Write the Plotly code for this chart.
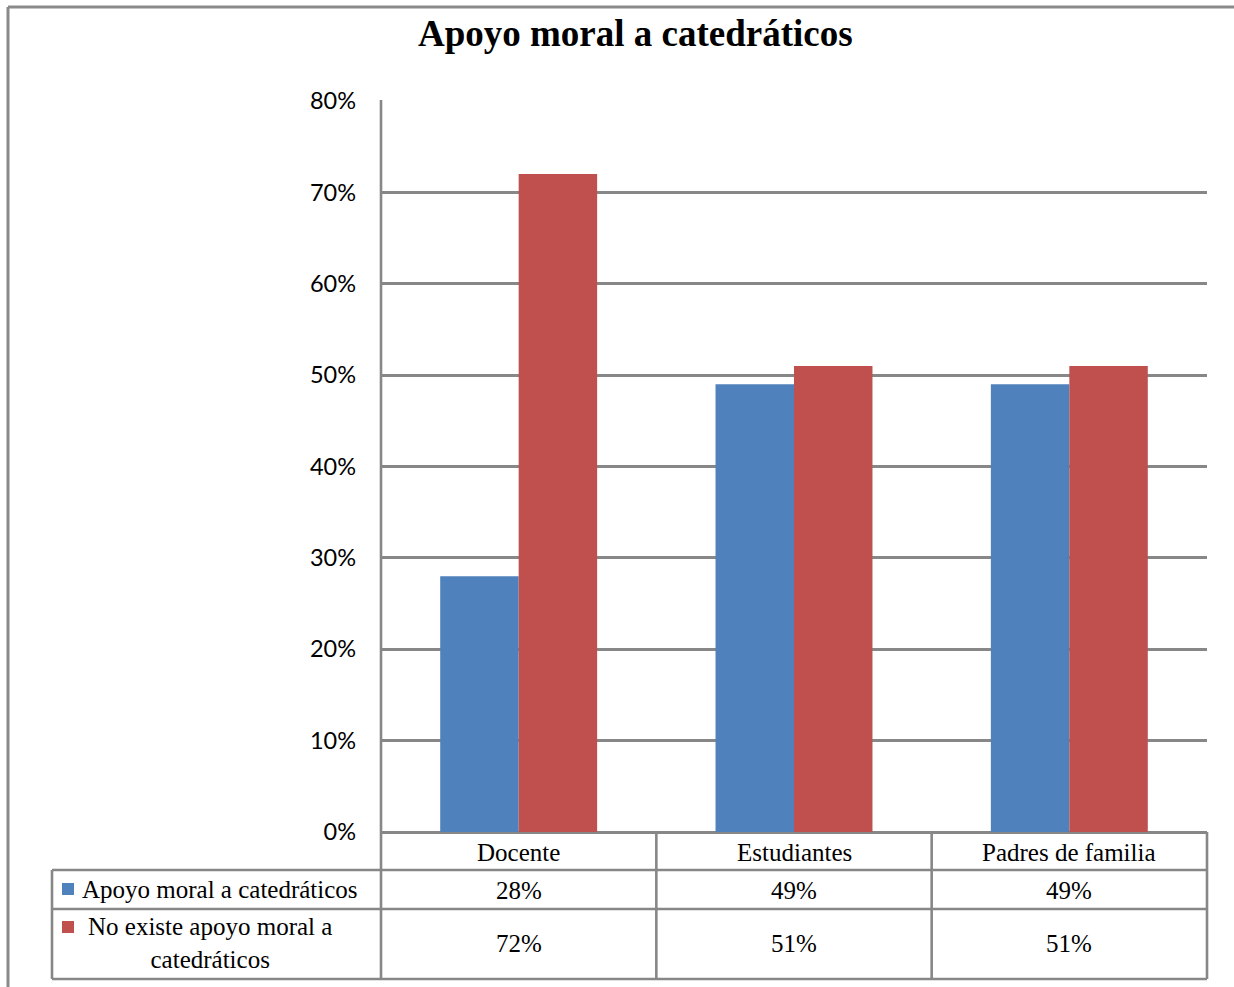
import plotly.graph_objects as go

categories = ["Docente", "Estudiantes", "Padres de familia"]
series_names = ["Apoyo moral a catedráticos", "No existe apoyo moral a<br>catedráticos"]
apoyo = [28, 49, 49]
no_apoyo = [72, 51, 51]
y_ticks = [0, 10, 20, 30, 40, 50, 60, 70, 80]
y_tick_labels = [f"{v}%" for v in y_ticks]
title_text = "Apoyo moral a catedráticos"

W, H = 1234, 987
BLUE = "#4F81BD"
RED = "#C0504D"
GRID = "#878787"
SERIF = "Liberation Serif, Times New Roman, serif"
SANS = "Lato, Liberation Sans, sans-serif"
TXT = 25

PLOT_L, PLOT_R = 381, 1207


def px(x):
    return x / W


def py(y):
    return 1 - y / H


fig = go.Figure()
fig.add_trace(go.Bar(x=categories, y=apoyo, name=series_names[0], marker_color=BLUE,
                     marker_line_width=0))
fig.add_trace(go.Bar(x=categories, y=no_apoyo, name=series_names[1], marker_color=RED,
                     marker_line_width=0))

shapes = []
lw = 2.6
# outer chart border (left & top)
shapes.append(dict(type="line", xref="paper", yref="paper", x0=px(8), x1=px(8), y0=py(7), y1=py(990),
                   line=dict(color="#8a8a8a", width=3)))
shapes.append(dict(type="line", xref="paper", yref="paper", x0=px(8), x1=px(1240), y0=py(7), y1=py(7),
                   line=dict(color="#8a8a8a", width=3)))
# table horizontal lines
for yy, x0 in [(870, 52), (909, 52), (979, 52)]:
    shapes.append(dict(type="line", xref="paper", yref="paper", x0=px(x0), x1=px(PLOT_R), y0=py(yy), y1=py(yy),
                       line=dict(color=GRID, width=lw)))
# left border of table label column
shapes.append(dict(type="line", xref="paper", yref="paper", x0=px(52), x1=px(52), y0=py(870), y1=py(979),
                   line=dict(color=GRID, width=lw)))
# vertical category boundaries (derived from the category count across the plot width)
n = len(categories)
for i in range(n + 1):
    xb = PLOT_L + (PLOT_R - PLOT_L) * i / n
    shapes.append(dict(type="line", xref="paper", yref="paper", x0=px(xb), x1=px(xb), y0=py(832), y1=py(979),
                       line=dict(color=GRID, width=lw)))
# axis line at left of plot area
shapes.append(dict(type="line", xref="paper", yref="paper", x0=px(PLOT_L), x1=px(PLOT_L), y0=py(832), y1=py(100),
                   line=dict(color=GRID, width=lw)))
# legend keys
for yy, col in [(889, BLUE), (927, RED)]:
    shapes.append(dict(type="rect", xref="paper", yref="paper", x0=px(62), x1=px(74), y0=py(yy - 6), y1=py(yy + 6),
                       fillcolor=col, line=dict(width=0)))

annotations = []
# title
annotations.append(dict(text=f"<b>{title_text}</b>", xref="paper", yref="paper", x=px(635), y=py(33),
                        showarrow=False, font=dict(family=SERIF, size=37, color="black"),
                        xanchor="center", yanchor="middle"))
# category header row
for i, c in enumerate(categories):
    annotations.append(dict(text=c, xref="x", yref="paper", x=i, y=py(852), showarrow=False,
                            font=dict(family=SERIF, size=TXT, color="black"), xanchor="center", yanchor="middle"))
# series labels
annotations.append(dict(text=series_names[0], xref="paper", yref="paper", x=px(80), y=py(889), showarrow=False,
                        font=dict(family=SERIF, size=TXT, color="black"), xanchor="left", yanchor="middle"))
annotations.append(dict(text=series_names[1], xref="paper", yref="paper", x=px(210), y=py(943), showarrow=False,
                        font=dict(family=SERIF, size=TXT, color="black"), xanchor="center", yanchor="middle",
                        align="center"))
# values
for vals, yy in [(apoyo, 890), (no_apoyo, 943)]:
    for i, v in enumerate(vals):
        annotations.append(dict(text=f"{v}%", xref="x", yref="paper", x=i, y=py(yy), showarrow=False,
                                font=dict(family=SERIF, size=TXT, color="black"), xanchor="center",
                                yanchor="middle"))

fig.update_layout(
    width=W, height=H, autosize=False,
    margin=dict(l=0, r=0, t=0, b=0, pad=0, autoexpand=False),
    paper_bgcolor="white", plot_bgcolor="white",
    barmode="group", bargap=0.43, bargroupgap=0,
    showlegend=False,
    xaxis=dict(domain=[px(PLOT_L), px(PLOT_R)], range=[-0.5, n - 0.5], showticklabels=False,
               showgrid=False, zeroline=False, showline=False, fixedrange=True, automargin=False),
    yaxis=dict(domain=[py(832), py(101)], range=[0, 80], tickvals=y_ticks, ticktext=y_tick_labels,
               showgrid=True, gridcolor=GRID, gridwidth=lw, zeroline=True, zerolinecolor=GRID,
               zerolinewidth=lw, showline=False, ticks="", ticklabelstandoff=24, automargin=False,
               tickfont=dict(family=SANS, size=23.5, color="black"), fixedrange=True),
    shapes=shapes,
    annotations=annotations,
)

fig.write_html("out.html", config={"responsive": False, "displayModeBar": False},
               post_script="document.body.style.margin='0';document.body.style.padding='0';")
